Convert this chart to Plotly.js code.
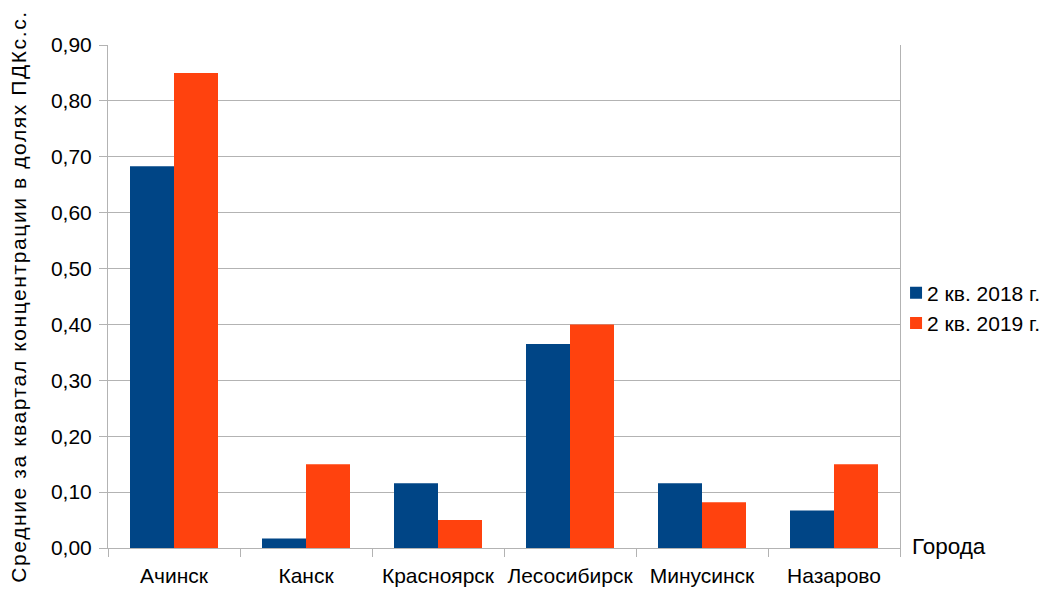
<!DOCTYPE html>
<html>
<head>
<meta charset="utf-8">
<script src="https://cdn.plot.ly/plotly-3.0.1.min.js"></script>
<style>
  html, body { margin: 0; padding: 0; background: #fff; }
  #chart { width: 1047px; height: 590px; }
  #chart .ytitle { letter-spacing: 1.6px; }
</style>
</head>
<body>
<div id="chart"></div>
<script>
// Cities and quarterly mean concentrations (fractions of daily-average MPC)
const cities = ['Ачинск', 'Канск', 'Красноярск', 'Лесосибирск', 'Минусинск', 'Назарово'];
const q2_2018 = [0.683, 0.017, 0.116, 0.365, 0.116, 0.067];
const q2_2019 = [0.85, 0.15, 0.05, 0.40, 0.082, 0.15];
const seriesNames = ['2 кв. 2018 г.', '2 кв. 2019 г.'];
const yTitle = 'Средние за квартал концентрации в долях ПДКс.с.';
const xTitle = 'Города';

const FONT = '"Liberation Sans", Arial, sans-serif';
const GRID = '#b3b3b3';

const traces = [
  { type: 'bar', name: seriesNames[0], x: cities, y: q2_2018,
    marker: { color: '#004586', line: { width: 0 } } },
  { type: 'bar', name: seriesNames[1], x: cities, y: q2_2019,
    marker: { color: '#ff420e', line: { width: 0 } } }
];

const layout = {
  width: 1047, height: 590,
  margin: { l: 108, r: 147, t: 45, b: 42, pad: 0, autoexpand: false },
  paper_bgcolor: '#fff', plot_bgcolor: '#fff',
  font: { family: FONT, size: 21, color: '#000' },
  separators: ', ',
  barmode: 'group',
  bargap: 0.3333,
  bargroupgap: 0,
  showlegend: true,
  legend: {
    x: 0.995, xanchor: 'left', y: 0.477, yanchor: 'middle',
    xref: 'paper', yref: 'paper',
    font: { family: FONT, size: 21, color: '#000' },
    itemwidth: 30, tracegroupgap: 0,
    bgcolor: 'rgba(0,0,0,0)', borderwidth: 0
  },
  xaxis: {
    type: 'category',
    showline: true, linecolor: GRID, linewidth: 1,
    ticks: 'outside', tickson: 'boundaries', ticklen: 8, tickcolor: GRID, tickwidth: 1,
    showgrid: false, zeroline: false,
    tickangle: 0,
    tickfont: { family: FONT, size: 21, color: '#000' },
    ticklabelstandoff: 9,
    automargin: false, fixedrange: true
  },
  yaxis: {
    range: [0, 0.9], dtick: 0.1, tick0: 0, tickformat: '.2f',
    showline: true, mirror: true, linecolor: GRID, linewidth: 1,
    ticks: 'outside', ticklen: 8, tickcolor: GRID, tickwidth: 1,
    showgrid: true, gridcolor: GRID, gridwidth: 1,
    zeroline: false,
    tickfont: { family: FONT, size: 21, color: '#000' },
    ticklabelstandoff: 3,
    title: { text: yTitle, font: { family: FONT, size: 21, color: '#000' }, standoff: 18 },
    automargin: false, fixedrange: true
  },
  annotations: [
    { text: xTitle, xref: 'paper', yref: 'paper', x: 1.0, y: 0,
      xanchor: 'left', yanchor: 'middle', xshift: 10, yshift: 2, showarrow: false,
      font: { family: FONT, size: 22.5, color: '#000' } }
  ]
};

Plotly.newPlot('chart', traces, layout, { staticPlot: true, displayModeBar: false })
  .then(function () {
    // pull legend labels closer to their colour swatches
    document.querySelectorAll('#chart .legendtext').forEach(function (t) {
      t.setAttribute('x', 31);
    });
  });
</script>
</body>
</html>
